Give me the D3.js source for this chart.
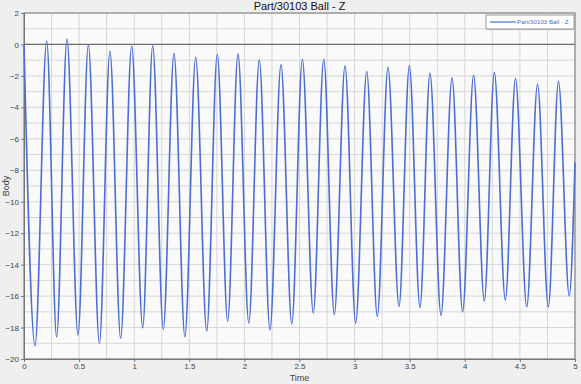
<!DOCTYPE html>
<html>
<head>
<meta charset="utf-8">
<script src="https://cdn.jsdelivr.net/npm/d3@7"></script>
<style>
  body { margin: 0; background: #fff; }
  svg { display: block; font-family: "Liberation Sans", Arial, sans-serif; }
</style>
</head>
<body>
<svg id="chart" width="581" height="384"></svg>
<script>
// extrema of the Z trace (time in s, value)
var times = [0.000, 0.100, 0.206, 0.296, 0.390, 0.490, 0.584, 0.684, 0.780, 0.877,
             0.977, 1.077, 1.168, 1.264, 1.361, 1.460, 1.558, 1.658, 1.754, 1.848,
             1.942, 2.040, 2.135, 2.232, 2.332, 2.430, 2.526, 2.625, 2.720, 2.816,
             2.913, 3.010, 3.110, 3.206, 3.303, 3.403, 3.497, 3.593, 3.684, 3.784,
             3.884, 3.980, 4.080, 4.177, 4.268, 4.368, 4.460, 4.562, 4.660, 4.758,
             4.850, 4.948, 5.000];
var values = [0.0, -19.16, 0.22, -18.59, 0.35, -18.48, -0.03, -19.01, -0.43, -18.69,
              -0.10, -18.02, -0.07, -18.10, -0.56, -18.59, -0.81, -18.23, -0.62, -17.60,
              -0.60, -17.72, -0.98, -18.15, -1.28, -17.77, -0.94, -17.07, -0.94, -17.17,
              -1.36, -17.72, -1.72, -17.30, -1.45, -16.66, -1.36, -16.73, -1.83, -17.22,
              -2.12, -17.00, -1.96, -16.31, -1.79, -16.25, -2.17, -16.69, -2.53, -16.69,
              -2.36, -15.99, -7.5];
var xTicks = [0, 0.5, 1, 1.5, 2, 2.5, 3, 3.5, 4, 4.5, 5];
var yTicks = [-20, -18, -16, -14, -12, -10, -8, -6, -4, -2, 0, 2];
var title = "Part/30103 Ball - Z";

var W = 581, H = 384;
var m = {left: 24, right: 6, top: 13, bottom: 25};
var pw = W - m.left - m.right, ph = H - m.top - m.bottom;

var svg = d3.select("#chart");
svg.append("rect").attr("width", W).attr("height", H).attr("fill", "#efefef");

var g = svg.append("g").attr("transform", "translate(" + m.left + "," + m.top + ")");

var x = d3.scaleLinear().domain([0, 5]).range([0, pw]);
var y = d3.scaleLinear().domain([-20, 2]).range([ph, 0]);

g.append("rect").attr("width", pw).attr("height", ph).attr("fill", "#fafafa");

// grid
g.append("g").selectAll("line")
  .data(d3.range(0, 5.001, 0.25))
  .enter().append("line")
  .attr("x1", d => x(d)).attr("x2", d => x(d))
  .attr("y1", 0).attr("y2", ph)
  .attr("stroke", "#d6d6d6").attr("stroke-width", 1);
g.append("g").selectAll("line")
  .data(d3.range(-20, 2.001, 1))
  .enter().append("line")
  .attr("y1", d => y(d)).attr("y2", d => y(d))
  .attr("x1", 0).attr("x2", pw)
  .attr("stroke", "#d6d6d6").attr("stroke-width", 1);

// zero line
g.append("line")
  .attr("x1", 0).attr("x2", pw)
  .attr("y1", y(0)).attr("y2", y(0))
  .attr("stroke", "#6e6e6e").attr("stroke-width", 1.2);

// axes
var xAxis = g.append("g")
  .attr("transform", "translate(0," + ph + ")")
  .call(d3.axisBottom(x).tickValues(xTicks).tickFormat(d3.format("")).tickSize(3).tickPadding(1));
var yAxis = g.append("g")
  .call(d3.axisLeft(y).tickValues(yTicks).tickFormat(d3.format("")).tickSize(3).tickPadding(2));
[xAxis, yAxis].forEach(function(a){
  a.select(".domain").attr("stroke", "#777");
  a.selectAll(".tick line").attr("stroke", "#777");
  a.selectAll("text").attr("fill", "#444").style("font-size", "8px");
});

// frame
g.append("rect").attr("width", pw).attr("height", ph)
  .attr("fill", "none").attr("stroke", "#777").attr("stroke-width", 1);

// trace
var pts = times.map((t, i) => [t, values[i]]);
var line = d3.line()
  .x(d => x(d[0])).y(d => y(d[1]))
  .curve(d3.curveMonotoneX);
g.append("path").datum(pts)
  .attr("d", line)
  .attr("fill", "none")
  .attr("stroke", "#4a6ed2")
  .attr("stroke-width", 1.6);

// titles
svg.append("text").attr("x", m.left + pw / 2).attr("y", 10)
  .attr("text-anchor", "middle").style("font-size", "11px").attr("fill", "#111")
  .text(title);
svg.append("text").attr("x", m.left + pw / 2).attr("y", 381)
  .attr("text-anchor", "middle").style("font-size", "9px").attr("fill", "#444")
  .text("Time");
svg.append("text").attr("transform", "translate(9," + (m.top + ph / 2) + ") rotate(-90)")
  .attr("text-anchor", "middle").style("font-size", "9px").attr("fill", "#444")
  .text("Body");

// legend
var lg = svg.append("g").attr("transform", "translate(486,15)");
lg.append("rect").attr("x", 1).attr("y", 1).attr("width", 88).attr("height", 14).attr("fill", "#bbb");
lg.append("rect").attr("width", 88).attr("height", 14)
  .attr("fill", "#fff").attr("stroke", "#999");
lg.append("line").attr("x1", 4).attr("x2", 30).attr("y1", 7).attr("y2", 7)
  .attr("stroke", "#4a6ed2").attr("stroke-width", 1.2);
lg.append("text").attr("x", 31).attr("y", 9.2)
  .style("font-size", "6.2px").attr("fill", "#4a6ed2")
  .text(title);
</script>
</body>
</html>
